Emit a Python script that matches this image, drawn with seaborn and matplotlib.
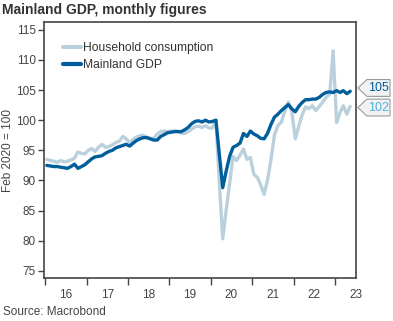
import matplotlib
matplotlib.use("Agg")
import matplotlib.pyplot as plt
from matplotlib.patches import Polygon
import numpy as np
import pandas as pd
import seaborn as sns

# ---- data (monthly, Jan 2016 .. May 2023), index Feb 2020 = 100 ----
start_month = "2016-01"
n_months = 89
mainland_gdp = [
    92.5, 92.4, 92.3, 92.3, 92.2, 92.1, 92.0, 92.3, 92.7, 92.0, 92.3, 92.6,   # 2016
    93.1, 93.6, 93.9, 94.0, 94.1, 94.5, 94.8, 95.0, 95.4, 95.6, 95.8, 96.0,   # 2017
    95.7, 96.2, 96.6, 96.9, 97.1, 97.1, 96.9, 96.7, 96.7, 97.3, 97.6, 97.9,   # 2018
    98.0, 98.1, 98.1, 98.1, 98.4, 98.8, 99.4, 99.8, 99.9, 99.7, 100.0, 99.7,  # 2019
    99.8, 100.0, 94.5, 88.8, 91.5, 94.0, 95.5, 95.8, 96.2, 97.8, 97.3, 98.2,  # 2020
    97.7, 97.4, 97.0, 96.9, 97.8, 99.3, 100.5, 101.0, 101.6, 102.1, 102.6, 101.9,  # 2021
    101.4, 102.3, 102.9, 103.4, 103.4, 103.5, 103.5, 103.8, 104.3, 104.6, 104.7, 104.6,  # 2022
    104.9, 104.6, 104.9, 104.4, 104.8,                                         # 2023
]
household_consumption = [
    93.5, 93.3, 93.2, 93.0, 93.3, 93.1, 93.2, 93.4, 93.7, 94.7, 94.5, 94.4,
    95.0, 95.3, 94.8, 95.5, 96.0, 95.5, 95.6, 95.9, 96.3, 96.5, 97.3, 96.9,
    96.3, 96.8, 97.2, 97.4, 97.5, 97.2, 97.0, 97.0, 97.7, 98.1, 98.2, 98.1,
    98.2, 98.2, 98.2, 97.8, 97.8, 98.1, 98.5, 98.9, 99.0, 98.8, 99.1, 98.7,
    98.7, 100.0, 90.0, 80.3, 85.0, 89.5, 94.0, 93.3, 94.2, 95.2, 93.5, 93.8,
    91.0, 90.5, 89.3, 87.7, 90.0, 93.5, 97.5, 99.1, 99.7, 101.5, 103.0, 101.5,
    96.9, 99.0, 100.8, 102.2, 101.9, 102.4, 101.6, 102.3, 103.0, 103.8, 104.3, 111.5,
    99.6, 101.3, 102.4, 101.0, 102.3,
]
series_names = ["Household consumption", "Mainland GDP"]
year_labels = ["16", "17", "18", "19", "20", "21", "22", "23"]
y_ticks = [75, 80, 85, 90, 95, 100, 105, 110, 115]
end_labels = ["105", "102"]

dates = pd.date_range(start_month, periods=n_months, freq="MS") + pd.Timedelta(days=14)
df = pd.concat([
    pd.DataFrame({"date": dates, "value": household_consumption, "series": series_names[0]}),
    pd.DataFrame({"date": dates, "value": mainland_gdp, "series": series_names[1]}),
])

sns.set_style("ticks")
plt.rcParams["font.family"] = ["Liberation Sans", "DejaVu Sans"]

c_gdp = "#005E9C"
c_hh = "#BAD0DC"
txt = "#333333"
fig = plt.figure(figsize=(3.93, 3.21), dpi=100)
ax = fig.add_axes([44 / 393, 43 / 321, 312 / 393, 256 / 321])

sns.lineplot(data=df, x="date", y="value", hue="series", hue_order=series_names,
             palette=[c_hh, c_gdp], linewidth=2.4, ax=ax)

ax.set_ylim(73.8, 116.3)
ax.set_yticks(y_ticks)
ax.set_xlim(pd.Timestamp("2015-12-21"), pd.Timestamp("2023-07-05"))
years = list(range(2016, 2016 + len(year_labels)))
ax.set_xticks([pd.Timestamp(f"{y}-01-01") for y in years])
ax.set_xticklabels([])
ax.set_xticks([pd.Timestamp(f"{y}-07-01") for y in years], minor=True)
ax.set_xticklabels(year_labels, minor=True)
ax.tick_params(axis="x", which="minor", length=0, pad=8, labelsize=8.5, labelcolor="#444444")
ax.tick_params(axis="x", which="major", length=5, width=1, color="#444444")
ax.tick_params(axis="y", length=4, width=1, color="#444444", labelsize=8.5, labelcolor="#444444", pad=2)
ax.set_xlabel("")
ax.set_ylabel("Feb 2020 = 100", fontsize=8.5, color="#444444")
ax.yaxis.set_label_coords(-0.097, 0.5)
for s in ax.spines.values():
    s.set_color("#444444")
    s.set_linewidth(1.2)

leg = ax.legend(loc="upper left", bbox_to_anchor=(0.045, 0.94), frameon=False,
                fontsize=8.7, handlelength=1.5, handletextpad=0.2, labelspacing=0.4,
                borderaxespad=0)
for t in leg.get_texts():
    t.set_color(txt)
for h in leg.get_lines():
    h.set_linewidth(3)

# end-value callouts
trans = ax.get_yaxis_transform()
for label, yc, col in [(end_labels[0], 105.35, c_gdp), (end_labels[1], 102.1, "#4DAFD6")]:
    hh = 1.4
    poly = Polygon([[1.006, yc], [1.035, yc + hh], [1.109, yc + hh],
                    [1.109, yc - hh], [1.035, yc - hh]], closed=True,
                   transform=trans, clip_on=False, facecolor="#F2F2F2",
                   edgecolor="#9A9A9A", linewidth=0.8)
    ax.add_patch(poly)
    ax.text(1.072, yc, label, transform=trans, ha="center", va="center",
            fontsize=9, color=col, clip_on=False)

fig.text(2 / 393, 1 - 10 / 321, "Mainland GDP, monthly figures", fontsize=10,
         fontweight="bold", color=txt, ha="left", va="center")
fig.text(3 / 393, 1 - 312 / 321, "Source: Macrobond", fontsize=8.5, color="#444444",
         ha="left", va="center")

fig.savefig("out.png", dpi=100)
